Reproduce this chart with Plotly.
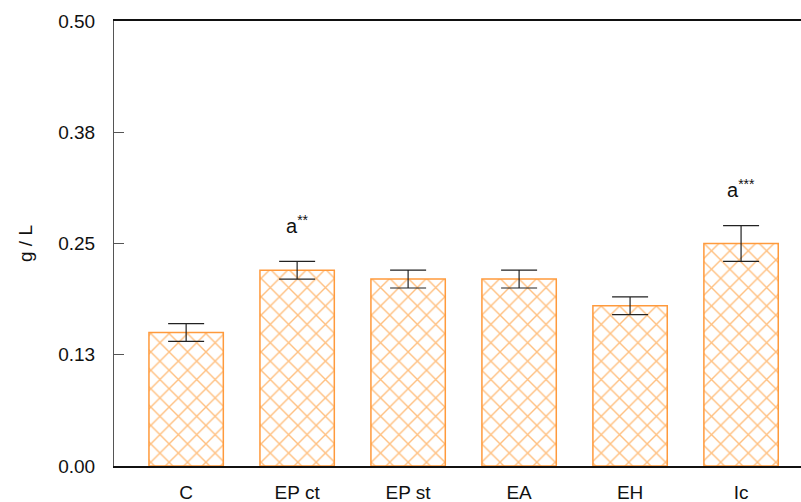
import plotly.graph_objects as go

categories = ["C", "EP ct", "EP st", "EA", "EH", "Ic"]
means = [0.15, 0.22, 0.21, 0.21, 0.18, 0.25]
errors = [0.01, 0.01, 0.01, 0.01, 0.01, 0.02]
sig_labels = ["", "a<sup>**</sup>", "", "", "", "a<sup>***</sup>"]
tick_vals = [0.0, 0.125, 0.25, 0.375, 0.5]
tick_text = ["0.00", "0.13", "0.25", "0.38", "0.50"]

orange = "#FF8000"

fig = go.Figure()
fig.add_trace(go.Bar(
    x=list(range(len(categories))),
    y=means,
    width=0.67,
    marker=dict(
        color="white",
        line=dict(color="#FF9A3C", width=1.5),
        pattern=dict(shape="x", fgcolor=orange, bgcolor="white", size=13, solidity=0.2),
    ),
    error_y=dict(type="data", array=errors, visible=True, color="#222222", thickness=1.2, width=18),
    showlegend=False,
))

for i, (lab, m, e) in enumerate(zip(sig_labels, means, errors)):
    if lab:
        fig.add_annotation(x=i, y=m + e, text=lab, showarrow=False, yshift=37,
                           font=dict(size=20, color="#111111"))

fig.update_layout(
    width=801, height=502,
    margin=dict(l=114, r=0, t=21, b=36),
    paper_bgcolor="white", plot_bgcolor="white",
    font=dict(family="Arial, Liberation Sans, sans-serif", size=19, color="#111111"),
    bargap=0.3,
)
fig.update_xaxes(
    range=[-0.65, 5.54],
    tickvals=list(range(len(categories))), ticktext=categories,
    showline=True, linecolor="#111111", linewidth=1.5, mirror=True,
    ticks="", showgrid=False, zeroline=False,
    tickfont=dict(size=19), ticklabelstandoff=8,
)
fig.update_yaxes(
    range=[0, 0.5],
    tickvals=tick_vals, ticktext=tick_text,
    showline=True, linecolor="#555555", linewidth=1,
    ticks="inside", ticklen=10, tickcolor="#555555",
    showgrid=False, zeroline=False,
    title=dict(text="g / L", font=dict(size=19), standoff=20),
    tickfont=dict(size=19), ticklabelstandoff=14,
)

fig.write_html("out.html")
